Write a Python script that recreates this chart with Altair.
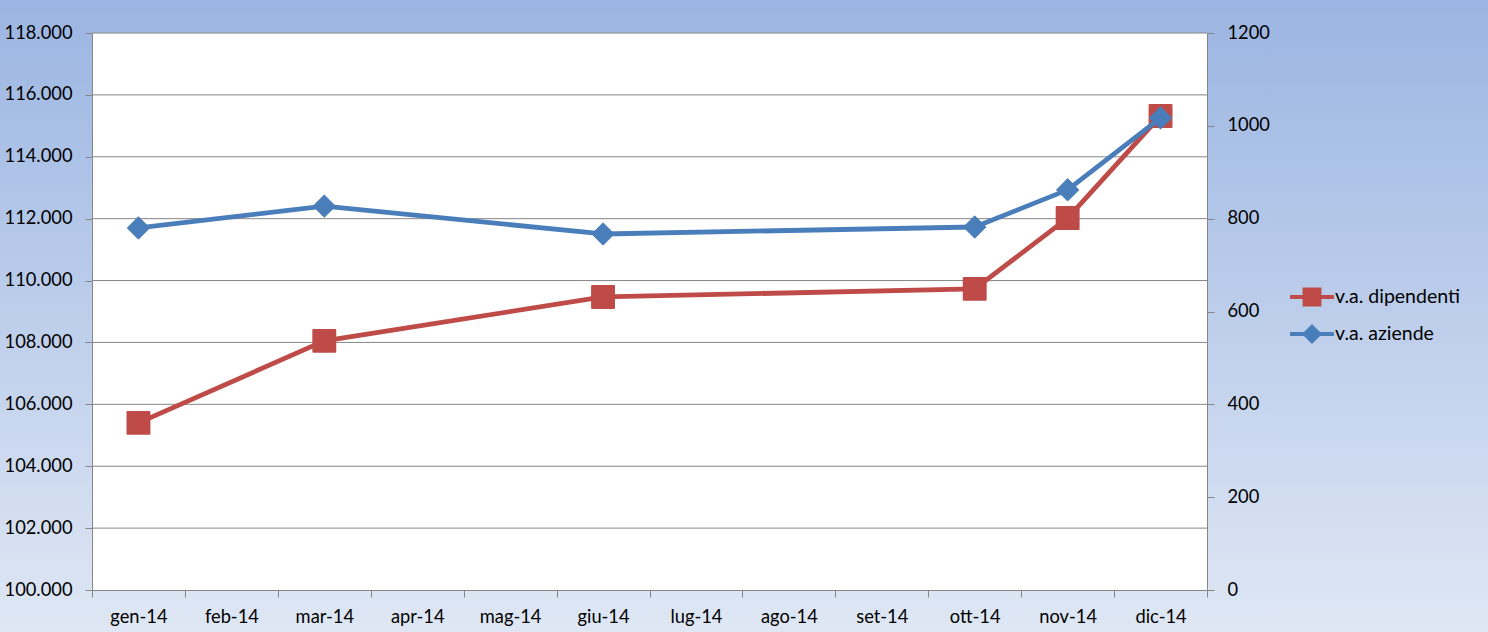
import altair as alt
import pandas as pd

months = ["gen-14", "feb-14", "mar-14", "apr-14", "mag-14", "giu-14",
          "lug-14", "ago-14", "set-14", "ott-14", "nov-14", "dic-14"]
obs_months = ["gen-14", "mar-14", "giu-14", "ott-14", "nov-14", "dic-14"]
dipendenti = [105400, 108050, 109470, 109730, 112020, 115320]
aziende = [780, 827, 767, 782, 862, 1017]
left_ticks = [100000, 102000, 104000, 106000, 108000, 110000, 112000, 114000, 116000, 118000]
right_ticks = [0, 200, 400, 600, 800, 1000, 1200]
series = ["v.a. dipendenti", "v.a. aziende"]
colors = ["#BE4B48", "#4A7EBB"]

W, H = 1115, 557
PL, PT, PR, PB = 92, 33, 281, 42
FONT = "Lato"
AXFS = 18.3

df_dip = pd.DataFrame({"mese": obs_months, "valore": dipendenti})
df_az = pd.DataFrame({"mese": obs_months, "valore": aziende})
df_grid = pd.DataFrame({"v": left_ticks[1:]})
df_one = pd.DataFrame({"k": [0]})
df_leg = pd.DataFrame({"serie": series})

xscale = alt.Scale(domain=months, paddingInner=0, paddingOuter=0)
xaxis = alt.Axis(title=None, tickBand="extent", tickSize=7, labelPadding=11,
                 labelFontSize=AXFS, labelFont=FONT, labelColor="#000000",
                 domainColor="#868686", tickColor="#868686", grid=False, zindex=1,
                 labelAngle=0)
yscale_l = alt.Scale(domain=[100000, 118000], nice=False, zero=False)
yaxis_l = alt.Axis(title=None, values=left_ticks, orient="left", tickSize=7, labelPadding=13,
                   labelFontSize=AXFS, labelFont=FONT, labelColor="#000000",
                   domainColor="#868686", tickColor="#868686", grid=False, zindex=1,
                   labelExpr="replace(format(datum.value, ',.0f'), ',', '.')")
yscale_r = alt.Scale(domain=[0, 1200], nice=False)
yaxis_r = alt.Axis(title=None, values=right_ticks, orient="right", tickSize=7, labelPadding=13,
                   labelFontSize=AXFS, labelFont=FONT, labelColor="#000000", format="d",
                   domainColor="#868686", tickColor="#868686", grid=False, zindex=1)

# legend symbol: 24px slot, line spans 44px, marker ~19px
sq_path = "M-1.83,0H1.83M-0.62,-0.62H0.62V0.62H-0.62Z"
dm_path = "M-1.83,0H1.83M0,-0.6L0.6,0L0,0.6L-0.6,0Z"
legend = alt.Legend(
    title=None, orient="none", legendX=1206, legendY=250, padding=0,
    symbolSize=576, rowPadding=5, labelOffset=9, labelFontSize=19.5, labelFont=FONT,
    labelColor="#000000", symbolStrokeWidth=4, symbolOpacity=1,
)

bg = alt.Chart(df_one).mark_rect(
    color=alt.LinearGradient(gradient="linear", x1=0, x2=0, y1=0, y2=1,
                             stops=[alt.GradientStop(offset=0, color="#9BB5E2"),
                                    alt.GradientStop(offset=1, color="#DFE7F4")])
).encode(x=alt.value(-PL), x2=alt.value(W + PR), y=alt.value(-PT), y2=alt.value(H + PB))

plotbg = alt.Chart(df_one).mark_rect(color="white").encode(
    x=alt.value(0), x2=alt.value(W), y=alt.value(0), y2=alt.value(H))

leg_layer = alt.Chart(df_leg).mark_point(opacity=0, size=576).encode(
    x=alt.value(10), y=alt.value(10),
    fill=alt.Fill("serie:N", scale=alt.Scale(domain=series, range=colors), legend=legend),
    stroke=alt.Stroke("serie:N", scale=alt.Scale(domain=series, range=colors), legend=legend),
    shape=alt.Shape("serie:N", scale=alt.Scale(domain=series, range=[sq_path, dm_path]), legend=legend),
)

grid = alt.Chart(df_grid).mark_rule(color="#868686", strokeWidth=1).encode(
    y=alt.Y("v:Q", scale=yscale_l, axis=yaxis_l), x=alt.value(0), x2=alt.value(W))

base_dip = alt.Chart(df_dip).encode(
    x=alt.X("mese:N", scale=xscale, axis=xaxis, sort=months),
    y=alt.Y("valore:Q", scale=yscale_l, axis=yaxis_l),
)
line_dip = base_dip.mark_line(color=colors[0], strokeWidth=4.8, strokeCap="round", strokeJoin="round")
pt_dip = base_dip.mark_point(shape="square", filled=True, size=480, opacity=1, color=colors[0],
                             stroke=colors[0], strokeWidth=2, strokeJoin="round")
left = alt.layer(bg, plotbg, leg_layer, grid, line_dip, pt_dip)

base_az = alt.Chart(df_az).encode(
    x=alt.X("mese:N", scale=xscale, axis=xaxis, sort=months),
    y=alt.Y("valore:Q", scale=yscale_r, axis=yaxis_r),
)
line_az = base_az.mark_line(color=colors[1], strokeWidth=4.8, strokeCap="round", strokeJoin="round")
pt_az = base_az.mark_point(shape="diamond", filled=True, size=500, opacity=1, color=colors[1],
                           stroke=colors[1], strokeWidth=1, strokeJoin="round")
right = alt.layer(line_az, pt_az)

chart = alt.layer(left, right).resolve_scale(y="independent").properties(
    width=W, height=H,
    autosize=alt.AutoSizeParams(type="none"),
    padding={"left": PL, "top": PT, "right": PR, "bottom": PB},
    background="#C0D0EC",
).configure_view(stroke=None).configure(font=FONT)

chart.save("out.html", embed_options={"renderer": "svg", "actions": False})
